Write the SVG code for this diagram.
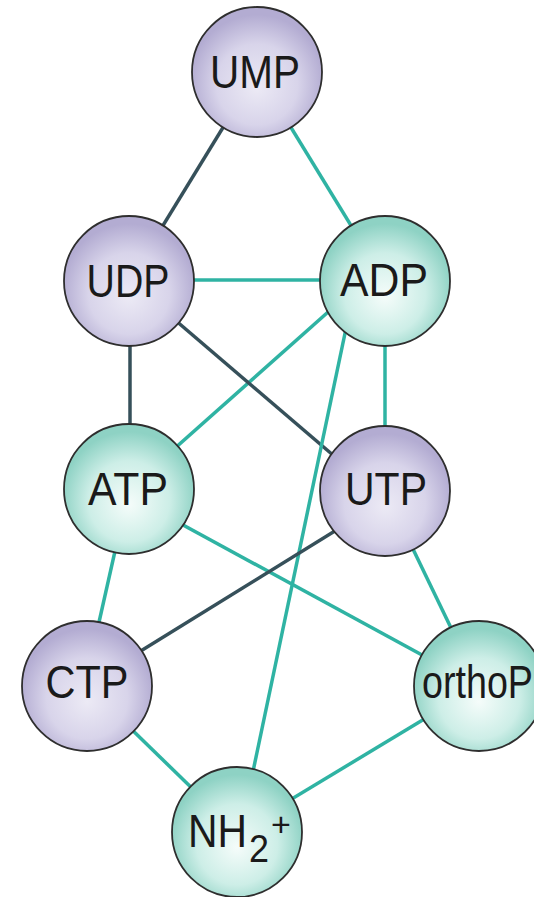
<svg xmlns="http://www.w3.org/2000/svg" width="534" height="897" viewBox="0 0 534 897">
<defs>
<radialGradient id="gp" cx="50%" cy="58%" r="52%" fx="50%" fy="62%">
<stop offset="0" stop-color="#eceaf5"/>
<stop offset="0.6" stop-color="#d8d4ea"/>
<stop offset="1" stop-color="#b3acd2"/>
</radialGradient>
<radialGradient id="gt" cx="50%" cy="58%" r="52%" fx="50%" fy="62%">
<stop offset="0" stop-color="#f5fcfa"/>
<stop offset="0.6" stop-color="#cdeee7"/>
<stop offset="1" stop-color="#8ed2c4"/>
</radialGradient>
<style>
.e{stroke-width:3.5;fill:none;stroke-linecap:butt}
.t{stroke:#2fb3a3}
.d{stroke:#36505a}
.n{stroke:#2e2e2e;stroke-width:1.8}
.p{fill:url(#gp)}
.q{fill:url(#gt)}
.l{font-family:"Liberation Sans",Arial,sans-serif;font-size:47px;fill:#1a1a1a;text-anchor:middle}
</style>
</defs>
<rect width="534" height="897" fill="#ffffff"/>
<g id="connectors">
<line class="e d" x1="257" y1="72" x2="129" y2="281"/>
<line class="e t" x1="257" y1="72" x2="385" y2="281"/>
<line class="e t" x1="129" y1="280" x2="385" y2="280"/>
<line class="e d" x1="130" y1="281" x2="130" y2="489"/>
<line class="e t" x1="345" y1="297" x2="129" y2="489"/>
<line class="e d" x1="140" y1="290" x2="375" y2="491"/>
<line class="e t" x1="385" y1="281" x2="385" y2="491"/>
<line class="e t" x1="352" y1="300" x2="247" y2="800"/>
<line class="e t" x1="129" y1="489" x2="95" y2="640"/>
<line class="e t" x1="150" y1="507" x2="479" y2="686"/>
<line class="e d" x1="385" y1="500" x2="110" y2="670"/>
<line class="e t" x1="385" y1="491" x2="479" y2="686"/>
<line class="e t" x1="87" y1="686" x2="237" y2="832"/>
<line class="e t" x1="479" y1="686" x2="237" y2="832"/>
</g>
<g id="UMP"><circle class="n p" cx="257" cy="72" r="65"/><text class="l" x="255" y="88" textLength="90" lengthAdjust="spacingAndGlyphs">UMP</text></g>
<g id="UDP"><circle class="n p" cx="129" cy="281" r="65"/><text class="l" x="128" y="297" textLength="83" lengthAdjust="spacingAndGlyphs">UDP</text></g>
<g id="ADP"><circle class="n q" cx="385" cy="281" r="65"/><text class="l" x="384" y="296" textLength="88" lengthAdjust="spacingAndGlyphs">ADP</text></g>
<g id="ATP"><circle class="n q" cx="129" cy="489" r="65"/><text class="l" x="128" y="505" textLength="80" lengthAdjust="spacingAndGlyphs">ATP</text></g>
<g id="UTP"><circle class="n p" cx="385" cy="491" r="65"/><text class="l" x="386" y="505" textLength="82" lengthAdjust="spacingAndGlyphs">UTP</text></g>
<g id="CTP"><circle class="n p" cx="87" cy="686" r="65"/><text class="l" x="87" y="698" textLength="83" lengthAdjust="spacingAndGlyphs">CTP</text></g>
<g id="orthoP"><circle class="n q" cx="479" cy="686" r="65"/><text class="l" x="422" y="698" style="text-anchor:start" textLength="111" lengthAdjust="spacingAndGlyphs">orthoP</text></g>
<g id="NH2plus"><circle class="n q" cx="237" cy="832" r="65"/><text class="l" x="188" y="847" style="text-anchor:start"><tspan textLength="59" lengthAdjust="spacingAndGlyphs">NH</tspan><tspan x="249" y="862" font-size="38px" textLength="20" lengthAdjust="spacingAndGlyphs">2</tspan><tspan x="271" y="836" font-size="34px">+</tspan></text></g>
</svg>
